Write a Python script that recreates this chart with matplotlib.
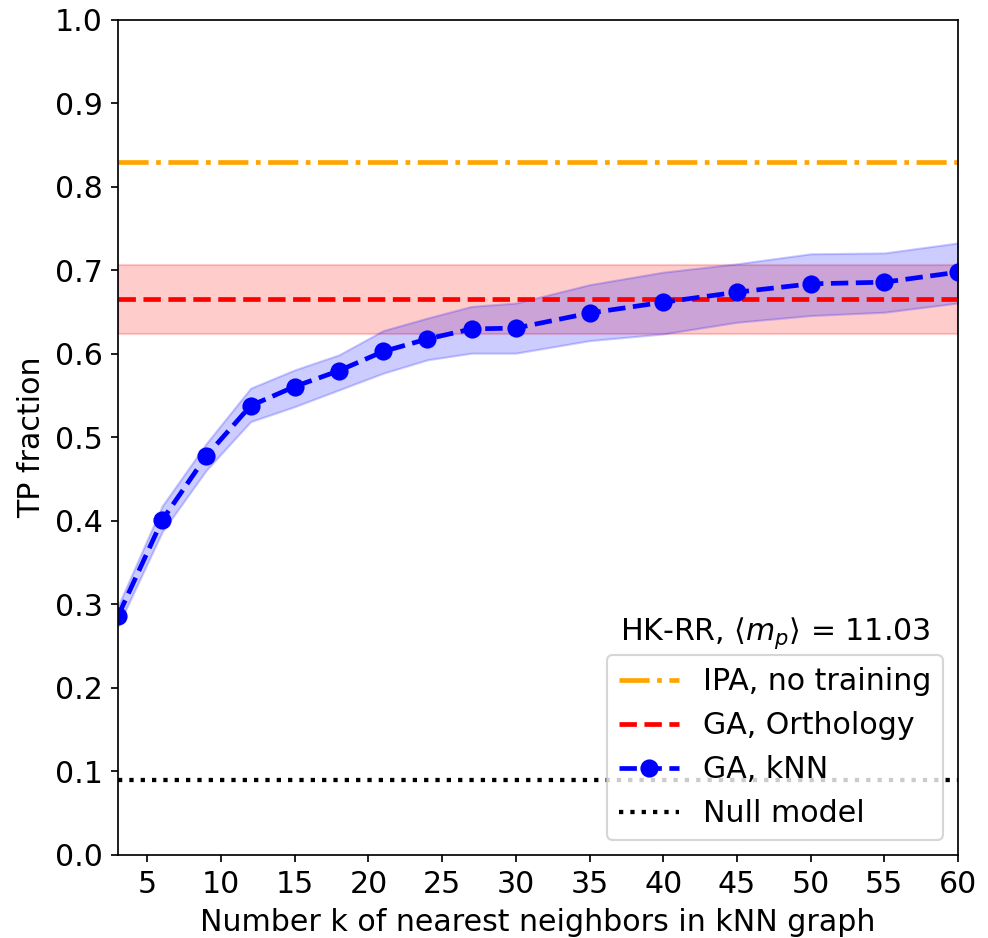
import numpy as np
import matplotlib.pyplot as plt

k = [3, 6, 9, 12, 15, 18, 21, 24, 27, 30, 35, 40, 45, 50, 55, 60]
tp_knn = [0.286, 0.401, 0.478, 0.538, 0.561, 0.580, 0.603, 0.618, 0.630, 0.631,
          0.649, 0.662, 0.674, 0.684, 0.686, 0.698]
knn_low = [0.274, 0.387, 0.461, 0.519, 0.537, 0.557, 0.577, 0.593, 0.601, 0.601,
           0.616, 0.624, 0.638, 0.646, 0.650, 0.661]
knn_high = [0.298, 0.418, 0.493, 0.559, 0.581, 0.599, 0.628, 0.643, 0.657, 0.661,
            0.683, 0.698, 0.708, 0.720, 0.721, 0.733]

ipa = 0.830
ortho = 0.666
ortho_low, ortho_high = 0.624, 0.707
null = 0.090

plt.rcParams['font.size'] = 14

dpi = 154
fig = plt.figure(figsize=(988 / dpi, 938 / dpi), dpi=dpi)
ax = fig.add_axes([0.1194, 0.0885, 0.8502, 0.8902])

ax.axhline(ipa, color='orange', linestyle='-.', lw=2.2, label='IPA, no training')
ax.axhline(ortho, color='red', linestyle='--', lw=2.2, label='GA, Orthology')
ax.axhspan(ortho_low, ortho_high, color='red', alpha=0.2)
ax.fill_between(k, knn_low, knn_high, color='blue', alpha=0.2)
ax.plot(k, tp_knn, color='blue', linestyle='--', marker='o', markersize=7.5, lw=2.2,
        label='GA, kNN')
ax.axhline(null, color='black', linestyle=':', lw=2, label='Null model')

ax.set_xlim(3, 60)
ax.set_ylim(0, 1)
ax.set_xticks(range(5, 61, 5))
ax.set_yticks(np.arange(0, 1.01, 0.1))
ax.set_xlabel('Number k of nearest neighbors in kNN graph')
ax.set_ylabel('TP fraction')
ax.legend(loc='lower right')
ax.text(0.967, 0.257, r'HK-RR, $\langle m_p \rangle$ = 11.03', transform=ax.transAxes,
        ha='right', va='baseline')

fig.savefig('out.png', dpi=dpi)
